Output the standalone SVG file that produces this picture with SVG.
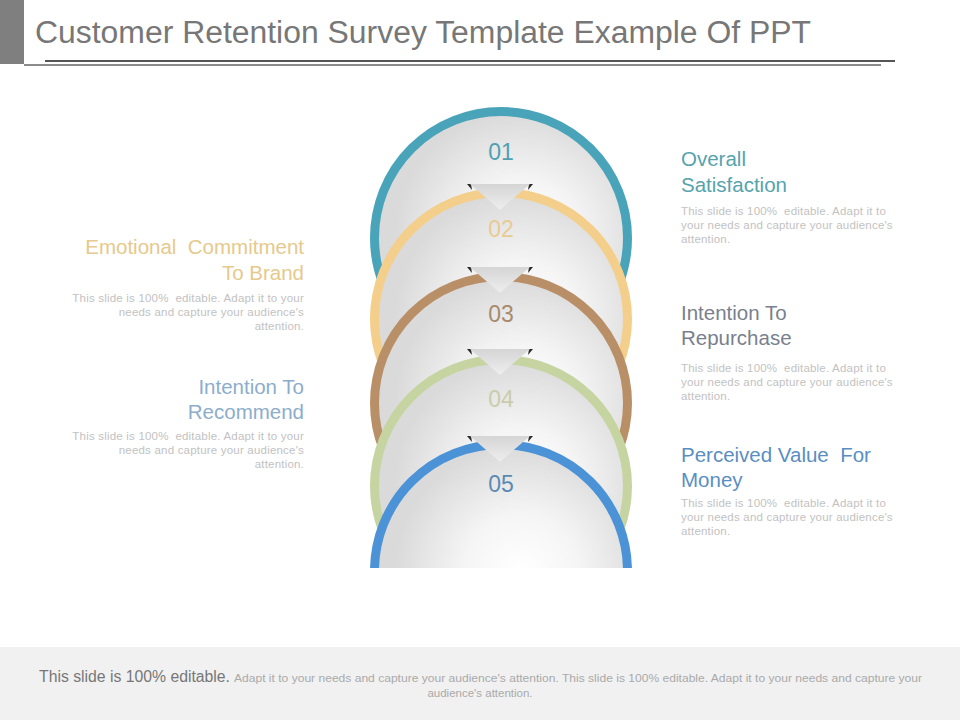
<svg xmlns="http://www.w3.org/2000/svg" width="960" height="720" viewBox="0 0 960 720">
<defs>
<radialGradient id="fillG" cx="0.58" cy="0.5" r="0.5">
<stop offset="0" stop-color="#ffffff"/>
<stop offset="0.45" stop-color="#f5f5f5"/>
<stop offset="1" stop-color="#dadada"/>
</radialGradient>
<linearGradient id="triG" x1="0" y1="0" x2="0" y2="1">
<stop offset="0" stop-color="#d5d5d5"/>
<stop offset="1" stop-color="#eeeeee"/>
</linearGradient>
<clipPath id="clipC"><rect x="0" y="0" width="960" height="568"/></clipPath>
</defs>
<style>
.ring{fill:url(#fillG);stroke-width:9}
.num{font-family:"Liberation Sans",Arial,sans-serif;font-size:23px;text-anchor:middle}
.head{font-family:"Liberation Sans",Arial,sans-serif;font-size:20.5px}
.body{font-family:"Liberation Sans",Arial,sans-serif;font-size:11.5px;letter-spacing:0.2px;fill:#c2c2c2}
.r{text-anchor:end}
.tri{fill:url(#triG)}
.dk{fill:#2a2a2a}
</style>
<rect x="0" y="0" width="960" height="720" fill="#ffffff"/>
<g id="header">
<rect x="0" y="0" width="24" height="64" fill="#7f7f7f"/>
<text x="35" y="43" font-family="Liberation Sans, Arial, sans-serif" font-size="31" fill="#777777" textLength="776" lengthAdjust="spacingAndGlyphs">Customer Retention Survey Template Example Of PPT</text>
<line x1="45" y1="61" x2="895" y2="61" stroke="#555555" stroke-width="2"/>
<line x1="24" y1="65" x2="881" y2="65" stroke="#666666" stroke-width="1.5"/>
</g>
<g clip-path="url(#clipC)">
<g id="node-01">
<circle class="ring" cx="501" cy="238" r="126.5" stroke="#4aa4b9"/>
<text class="num" x="501" y="160" fill="#509fb4">01</text>
</g>
<g id="node-02">
<circle class="ring" cx="501" cy="319" r="126.5" stroke="#f3cf8b"/>
<text class="num" x="501" y="237" fill="#e8cb92">02</text>
</g>
<g id="node-03">
<circle class="ring" cx="501" cy="403" r="126.5" stroke="#b98f68"/>
<text class="num" x="501" y="322" fill="#a78a6c">03</text>
</g>
<g id="node-04">
<circle class="ring" cx="501" cy="486" r="126.5" stroke="#c5d4a0"/>
<text class="num" x="501" y="407" fill="#c9cdab">04</text>
</g>
<g id="node-05">
<circle class="ring" cx="501" cy="571" r="126.5" stroke="#4b93d6"/>
<text class="num" x="501" y="492" fill="#5a8bb4">05</text>
</g>
</g>
<g id="connectors">
<polygon class="dk" points="467,184 471,184 472,190"/>
<polygon class="dk" points="533,184 529,184 528,190"/>
<polygon class="tri" points="470,184 530,184 500,210"/>
<polygon class="dk" points="467,267 471,267 472,273"/>
<polygon class="dk" points="533,267 529,267 528,273"/>
<polygon class="tri" points="470,267 530,267 500,293"/>
<polygon class="dk" points="467,349 471,349 472,355"/>
<polygon class="dk" points="533,349 529,349 528,355"/>
<polygon class="tri" points="470,349 530,349 500,375"/>
<polygon class="dk" points="467,436 471,436 472,442"/>
<polygon class="dk" points="533,436 529,436 528,442"/>
<polygon class="tri" points="470,436 530,436 500,462"/>
</g>
<g id="text-emotional">
<text class="head r" x="304" y="254" fill="#e6c98c" xml:space="preserve">Emotional  Commitment</text>
<text class="head r" x="304" y="280" fill="#e6c98c">To Brand</text>
<text class="body r" x="304" y="302" xml:space="preserve">This slide is 100%  editable. Adapt it to your</text>
<text class="body r" x="304" y="316">needs and capture your audience's</text>
<text class="body r" x="304" y="330">attention.</text>
</g>
<g id="text-recommend">
<text class="head r" x="304" y="394" fill="#8cadcb">Intention To</text>
<text class="head r" x="304" y="419" fill="#8cadcb">Recommend</text>
<text class="body r" x="304" y="440" xml:space="preserve">This slide is 100%  editable. Adapt it to your</text>
<text class="body r" x="304" y="454">needs and capture your audience's</text>
<text class="body r" x="304" y="468">attention.</text>
</g>
<g id="text-satisfaction">
<text class="head" x="681" y="166" fill="#56a3ad">Overall</text>
<text class="head" x="681" y="192" fill="#56a3ad">Satisfaction</text>
<text class="body" x="681" y="215" xml:space="preserve">This slide is 100%  editable. Adapt it to</text>
<text class="body" x="681" y="229">your needs and capture your audience's</text>
<text class="body" x="681" y="243">attention.</text>
</g>
<g id="text-repurchase">
<text class="head" x="681" y="320" fill="#7a7f8e">Intention To</text>
<text class="head" x="681" y="345" fill="#7a7f8e">Repurchase</text>
<text class="body" x="681" y="372" xml:space="preserve">This slide is 100%  editable. Adapt it to</text>
<text class="body" x="681" y="386">your needs and capture your audience's</text>
<text class="body" x="681" y="400">attention.</text>
</g>
<g id="text-value">
<text class="head" x="681" y="462" fill="#5a8ec3" xml:space="preserve">Perceived Value  For</text>
<text class="head" x="681" y="487" fill="#5a8ec3">Money</text>
<text class="body" x="681" y="507" xml:space="preserve">This slide is 100%  editable. Adapt it to</text>
<text class="body" x="681" y="521">your needs and capture your audience's</text>
<text class="body" x="681" y="535">attention.</text>
</g>
<g id="footer">
<rect x="0" y="647" width="960" height="73" fill="#f1f1f1"/>
<text x="39" y="682" font-family="Liberation Sans, Arial, sans-serif" font-size="16" fill="#777777" textLength="191" lengthAdjust="spacingAndGlyphs">This slide is 100% editable.</text>
<text x="234" y="682" font-family="Liberation Sans, Arial, sans-serif" font-size="11.5" fill="#aaaaaa" textLength="688" lengthAdjust="spacingAndGlyphs">Adapt it to your needs and capture your audience's attention. This slide is 100% editable. Adapt it to your needs and capture your</text>
<text x="480" y="697" font-family="Liberation Sans, Arial, sans-serif" font-size="11.5" fill="#aaaaaa" text-anchor="middle">audience's attention.</text>
</g>
</svg>
